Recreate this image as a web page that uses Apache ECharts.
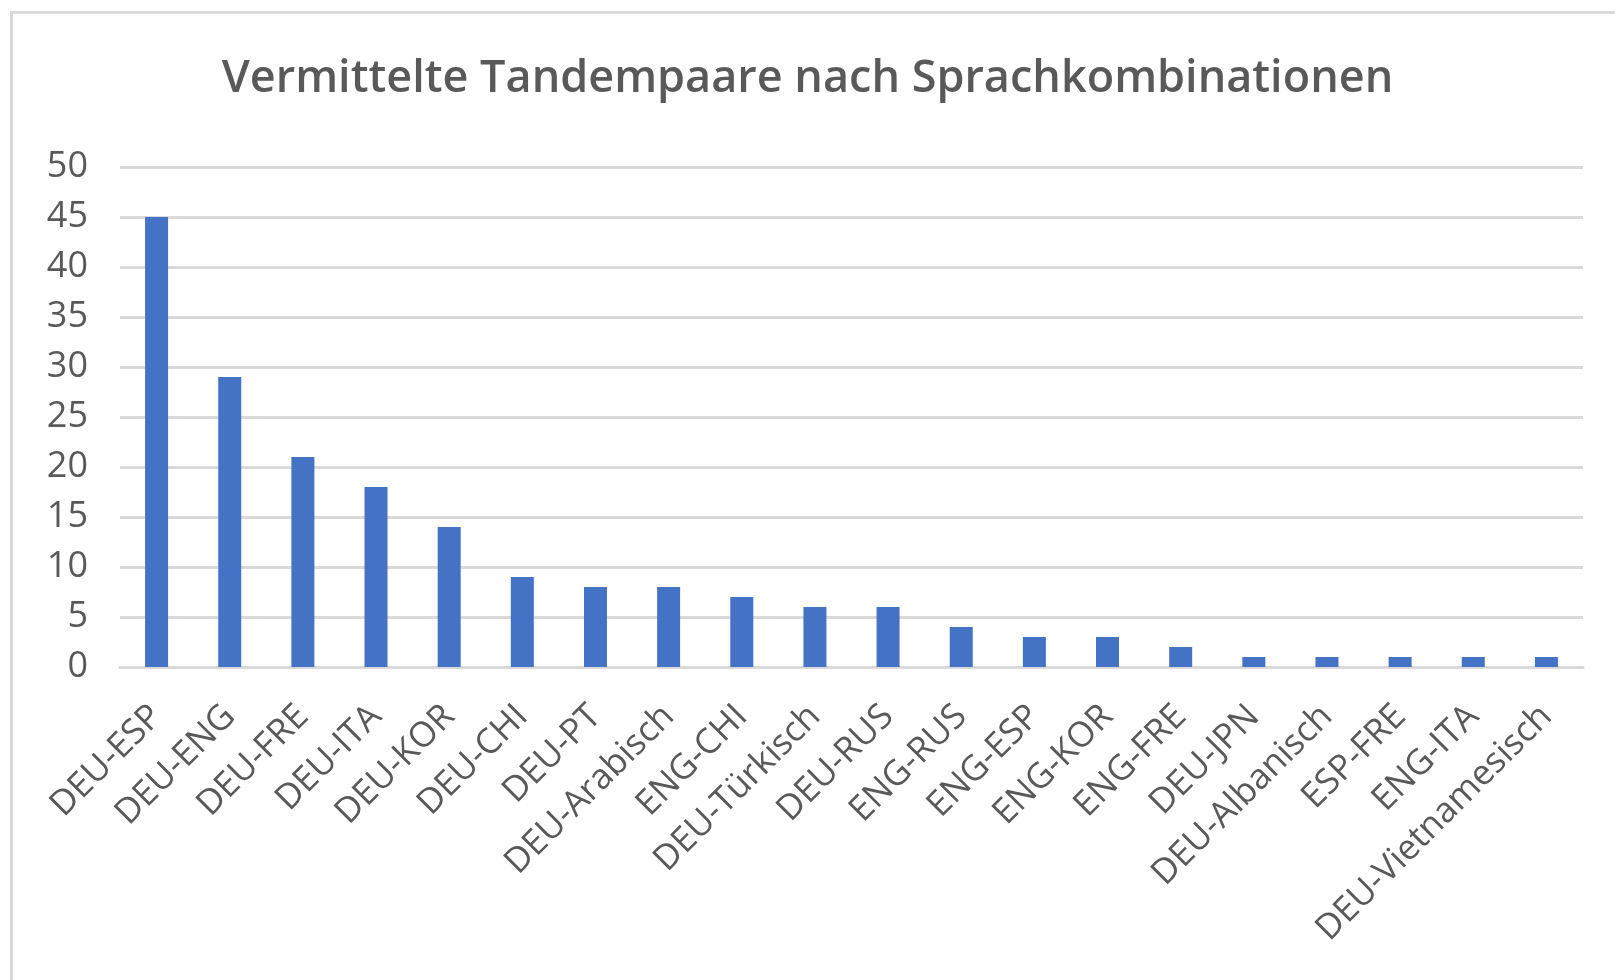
<!DOCTYPE html>
<html>
<head>
<meta charset="utf-8">
<script src="https://cdn.jsdelivr.net/npm/echarts@6/dist/echarts.min.js"></script>
<style>
  html, body { margin: 0; padding: 0; background: #fff; }
  #frame {
    position: absolute; left: 10px; top: 11px; width: 1640px; height: 1000px;
    border-left: 3px solid #d9d9d9; border-top: 3px solid #d9d9d9;
    box-sizing: border-box;
  }
  #chart { position: absolute; left: 0; top: 0; width: 1615px; height: 980px; }
</style>
</head>
<body>
<div id="frame"></div>
<div id="chart"></div>
<script>
const categories = [
  'DEU-ESP', 'DEU-ENG', 'DEU-FRE', 'DEU-ITA', 'DEU-KOR', 'DEU-CHI', 'DEU-PT',
  'DEU-Arabisch', 'ENG-CHI', 'DEU-Türkisch', 'DEU-RUS', 'ENG-RUS', 'ENG-ESP',
  'ENG-KOR', 'ENG-FRE', 'DEU-JPN', 'DEU-Albanisch', 'ESP-FRE', 'ENG-ITA',
  'DEU-Vietnamesisch'
]
const pairs = [45, 29, 21, 18, 14, 9, 8, 8, 7, 6, 6, 4, 3, 3, 2, 1, 1, 1, 1, 1]

const chart = echarts.init(document.getElementById('chart'))

chart.setOption({
  animation: false,
  title: {
    text: 'Vermittelte Tandempaare nach Sprachkombinationen',
    left: 'center',
    top: 52,
    textStyle: {
      fontFamily: 'Open Sans',
      fontSize: 45,
      fontWeight: 600,
      color: '#595959'
    }
  },
  grid: {
    left: 120,
    right: 32,
    top: 167,
    bottom: 313
  },
  xAxis: {
    type: 'category',
    data: categories,
    axisTick: { show: false },
    axisLine: { lineStyle: { color: '#d9d9d9', width: 3 } },
    axisLabel: {
      interval: 0,
      rotate: 45,
      margin: 44,
      fontFamily: 'Open Sans',
      fontSize: 35,
      color: '#595959'
    }
  },
  yAxis: {
    type: 'value',
    min: 0,
    max: 50,
    interval: 5,
    axisLine: { show: false },
    axisTick: { show: false },
    splitLine: { lineStyle: { color: '#d9d9d9', width: 3 } },
    axisLabel: {
      margin: 32,
      fontFamily: 'Open Sans',
      fontSize: 36,
      color: '#595959'
    }
  },
  series: [
    {
      name: 'Tandempaare',
      type: 'bar',
      barWidth: 23,
      data: pairs,
      itemStyle: { color: '#4472c4' }
    }
  ]
})
</script>
</body>
</html>
